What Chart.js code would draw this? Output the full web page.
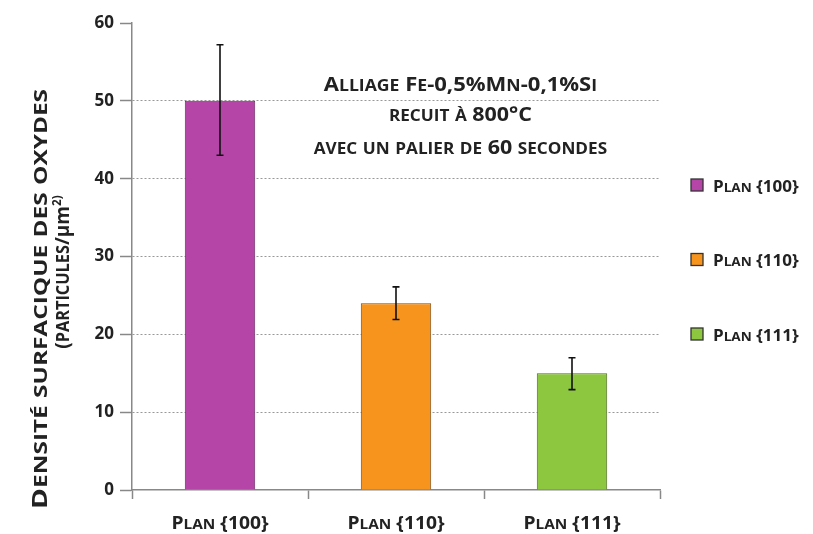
<!DOCTYPE html>
<html>
<head>
<meta charset="utf-8">
<script src="https://cdn.jsdelivr.net/npm/chart.js@4/dist/chart.umd.min.js"></script>
<style>
  html, body { margin: 0; padding: 0; background: #fff; }
  #wrap { width: 813px; height: 534px; }
</style>
</head>
<body>
<div id="wrap"><canvas id="cv" width="813" height="534"></canvas></div>
<script>
var categories = ['Plan {100}', 'Plan {110}', 'Plan {111}'];
var densite = [50, 24, 15];
var errHaut = [57.2, 26.1, 17];
var errBas = [43, 21.9, 12.9];
var couleurs = ['#b546a8', '#f7941e', '#8dc63f'];
var bordures = ['#6e2a66', '#7a4a12', '#4f6e24'];
var titreY = ['Densité surfacique des oxydes', '(particules/[µm]^2)'];
var annotation = ['Alliage Fe-0,5%Mn-0,1%Si', 'recuit à 800°C', 'avec un palier de 60 secondes'];

var FONT = '"Open Sans", Lato, sans-serif';
var SC = 0.8; // taille des petites capitales

// découpe un texte en morceaux : minuscules -> petites capitales, [..] brut, ^..^ exposant
function morceaux(text, size, sc) {
    var out = [], raw = false, sup = false;
    for (var i = 0; i < text.length; i++) {
        var c = text[i];
        if (c == '[') { raw = true; continue; }
        if (c == ']') { raw = false; continue; }
        if (c == '^') { sup = !sup; continue; }
        if (sup) out.push({ t: c, s: size * 0.62, dy: -size * 0.38 });
        else if (!raw && c != c.toUpperCase()) out.push({ t: c.toUpperCase(), s: size * sc, dy: 0 });
        else out.push({ t: c, s: size, dy: 0 });
    }
    return out;
}

function largeur(ctx, parts) {
    var w = 0;
    parts.forEach(function(p) {
        ctx.font = 'bold ' + p.s + 'px ' + FONT;
        w += ctx.measureText(p.t).width;
    });
    return w;
}

// écrit un texte en petites capitales; etire = étirement horizontal
function ecrire(ctx, text, x, y, size, align, etire, sc) {
    etire = etire || 1;
    var parts = morceaux(text, size, sc || SC);
    var w = largeur(ctx, parts);
    ctx.save();
    ctx.translate(x, y);
    ctx.scale(etire, 1);
    var cx = align == 'left' ? 0 : -w / 2;
    ctx.textBaseline = 'alphabetic';
    ctx.textAlign = 'left';
    parts.forEach(function(p) {
        ctx.font = 'bold ' + p.s + 'px ' + FONT;
        ctx.fillText(p.t, cx, p.dy);
        cx += ctx.measureText(p.t).width;
    });
    ctx.restore();
}

var decor = {
    id: 'decor',
    afterDatasetsDraw: function(chart) {
        var ctx = chart.ctx,
            ys = chart.scales.y,
            meta = chart.getDatasetMeta(0);
        // barres d'erreur
        ctx.save();
        ctx.strokeStyle = '#111';
        ctx.lineWidth = 1.6;
        for (var i = 0; i < densite.length; i++) {
            var x = meta.data[i].x,
                yh = ys.getPixelForValue(errHaut[i]),
                yb = ys.getPixelForValue(errBas[i]);
            ctx.beginPath();
            ctx.moveTo(x, yh); ctx.lineTo(x, yb);
            ctx.moveTo(x - 3.5, yh); ctx.lineTo(x + 3.5, yh);
            ctx.moveTo(x - 3.5, yb); ctx.lineTo(x + 3.5, yb);
            ctx.stroke();
        }
        ctx.restore();
    },
    afterDraw: function(chart) {
        var ctx = chart.ctx,
            area = chart.chartArea,
            xs = chart.scales.x;
        ctx.save();
        ctx.fillStyle = '#222';
        // étiquettes de l'axe x
        categories.forEach(function(c, i) {
            ecrire(ctx, c, xs.getPixelForValue(i), 529, 18.5, 'center', 1.04);
        });
        // titre de l'axe y
        ctx.save();
        ctx.translate(47, 299);
        ctx.rotate(-Math.PI / 2);
        ecrire(ctx, titreY[0], 0, 0, 21, 'center', 1.35, 0.86);
        ctx.restore();
        ctx.save();
        ctx.translate(69, 272);
        ctx.rotate(-Math.PI / 2);
        ecrire(ctx, titreY[1], 0, 0, 20, 'center', 0.95, 0.86);
        ctx.restore();
        // annotation
        var cx = area.left + (area.right - area.left) * 0.622;
        ecrire(ctx, annotation[0], cx, 91, 19.5, 'center', 1.13);
        ecrire(ctx, annotation[1], cx, 121, 19.5, 'center', 1.1);
        ecrire(ctx, annotation[2], cx, 154, 19.5, 'center', 1.1);
        // légende
        categories.forEach(function(c, i) {
            var ly = 185 + i * 74.5;
            ctx.fillStyle = couleurs[i];
            ctx.fillRect(691, ly - 6, 12, 12);
            ctx.strokeStyle = '#333';
            ctx.lineWidth = 1.3;
            ctx.strokeRect(691, ly - 6, 12, 12);
            ctx.fillStyle = '#222';
            ecrire(ctx, c, 713, ly + 6.5, 16.5, 'left', 1.03);
        });
        ctx.restore();
    }
};

var chart = new Chart(document.getElementById('cv'), {
    type: 'bar',
    data: {
        labels: categories,
        datasets: [{
            data: densite,
            backgroundColor: couleurs,
            borderColor: bordures,
            borderWidth: 1,
            categoryPercentage: 1,
            barPercentage: 0.4
        }]
    },
    options: {
        responsive: false,
        animation: false,
        events: [],
        layout: { padding: { left: 0, right: 153, top: 23, bottom: 0 } },
        plugins: { legend: { display: false }, tooltip: { enabled: false } },
        scales: {
            x: {
                offset: true,
                grid: { offset: true, drawOnChartArea: false, tickLength: 9, color: '#888', tickColor: '#888', tickWidth: 1.5 },
                border: { color: '#888', width: 1.5 },
                ticks: { display: false },
                afterFit: function(s) { s.height = 44; }
            },
            y: {
                min: 0,
                max: 60,
                ticks: { stepSize: 10, color: '#222', padding: 6, font: { family: FONT, size: 17, weight: 'bold' } },
                grid: {
                    color: function(c) { return (c.tick.value == 0 || c.tick.value == 60) ? 'rgba(0,0,0,0)' : '#999'; },
                    tickColor: '#888',
                    tickLength: 12,
                    tickWidth: 1.5,
                    tickBorderDash: [],
                    lineWidth: 1
                },
                border: { color: '#888', width: 1.5, dash: [2, 2] },
                afterFit: function(s) { s.width = 132; }
            }
        }
    },
    plugins: [decor]
});
</script>
</body>
</html>
